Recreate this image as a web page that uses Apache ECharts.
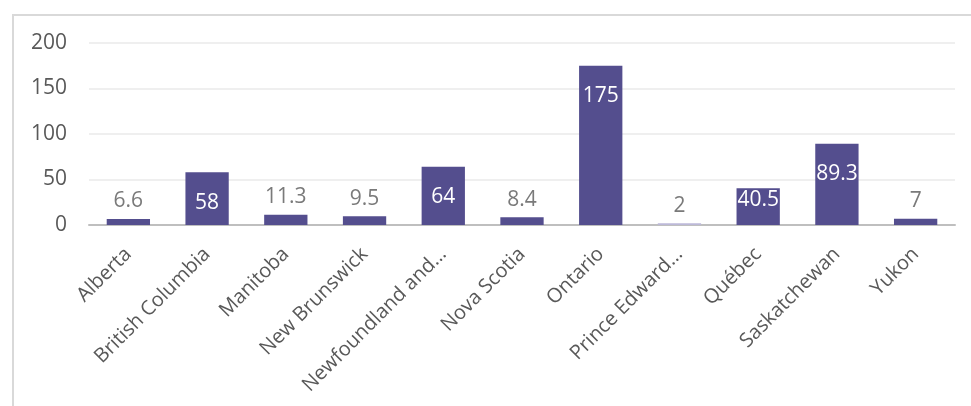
<!DOCTYPE html>
<html>
<head>
<meta charset="utf-8">
<script src="https://cdn.jsdelivr.net/npm/echarts@6/dist/echarts.min.js"></script>
<style>
  html, body { margin: 0; padding: 0; background: #fff; }
  #frame { position: absolute; left: 12px; top: 14px; width: 980px; height: 420px;
           border: 2px solid #d9d9d9; box-sizing: border-box; }
  #chart { position: absolute; left: 0; top: 0; width: 971px; height: 406px; }
</style>
</head>
<body>
<div id="frame"></div>
<div id="chart"></div>
<script>
const provinces = ['Alberta', 'British Columbia', 'Manitoba', 'New Brunswick', 'Newfoundland and…',
  'Nova Scotia', 'Ontario', 'Prince Edward…', 'Québec', 'Saskatchewan', 'Yukon'];
const values = [6.6, 58, 11.3, 9.5, 64, 8.4, 175, 2, 40.5, 89.3, 7];
const yTicks = [0, 50, 100, 150, 200];

const barColor = '#544e8e';
const paleColor = '#bcb9d8';
const font = '"Open Sans", "Noto Sans", sans-serif';

function labelFor(v) {
  if (v >= 50) {
    return { show: true, position: 'insideTop', distance: 20, color: '#ffffff' };
  }
  if (v >= 30) {
    return { show: true, position: 'insideTop', distance: 1, color: '#ffffff' };
  }
  return { show: true, position: 'top', distance: 7, color: '#7a7a7a' };
}

const chart = echarts.init(document.getElementById('chart'), null, { renderer: 'canvas' });
chart.setOption({
  animation: false,
  grid: { left: 89, right: 16, top: 43, bottom: 181, containLabel: false },
  xAxis: {
    type: 'category',
    data: provinces,
    axisTick: { show: false },
    axisLine: { lineStyle: { color: '#bfbfbf', width: 2 } },
    axisLabel: { rotate: 45, interval: 0, margin: 26, color: '#595959', fontSize: 20, fontFamily: font }
  },
  yAxis: {
    type: 'value',
    min: yTicks[0],
    max: yTicks[yTicks.length - 1],
    interval: yTicks[1] - yTicks[0],
    axisLine: { show: false },
    axisTick: { show: false },
    splitLine: { lineStyle: { color: '#efefef', width: 2 } },
    axisLabel: { color: '#595959', fontSize: 21, fontFamily: font, margin: 22 }
  },
  series: [{
    type: 'bar',
    barWidth: '55%',
    data: values.map(function (v) {
      return {
        value: v,
        itemStyle: { color: v < 3 ? paleColor : barColor },
        label: labelFor(v)
      };
    }),
    label: { fontSize: 21, fontFamily: font }
  }]
});
</script>
</body>
</html>
